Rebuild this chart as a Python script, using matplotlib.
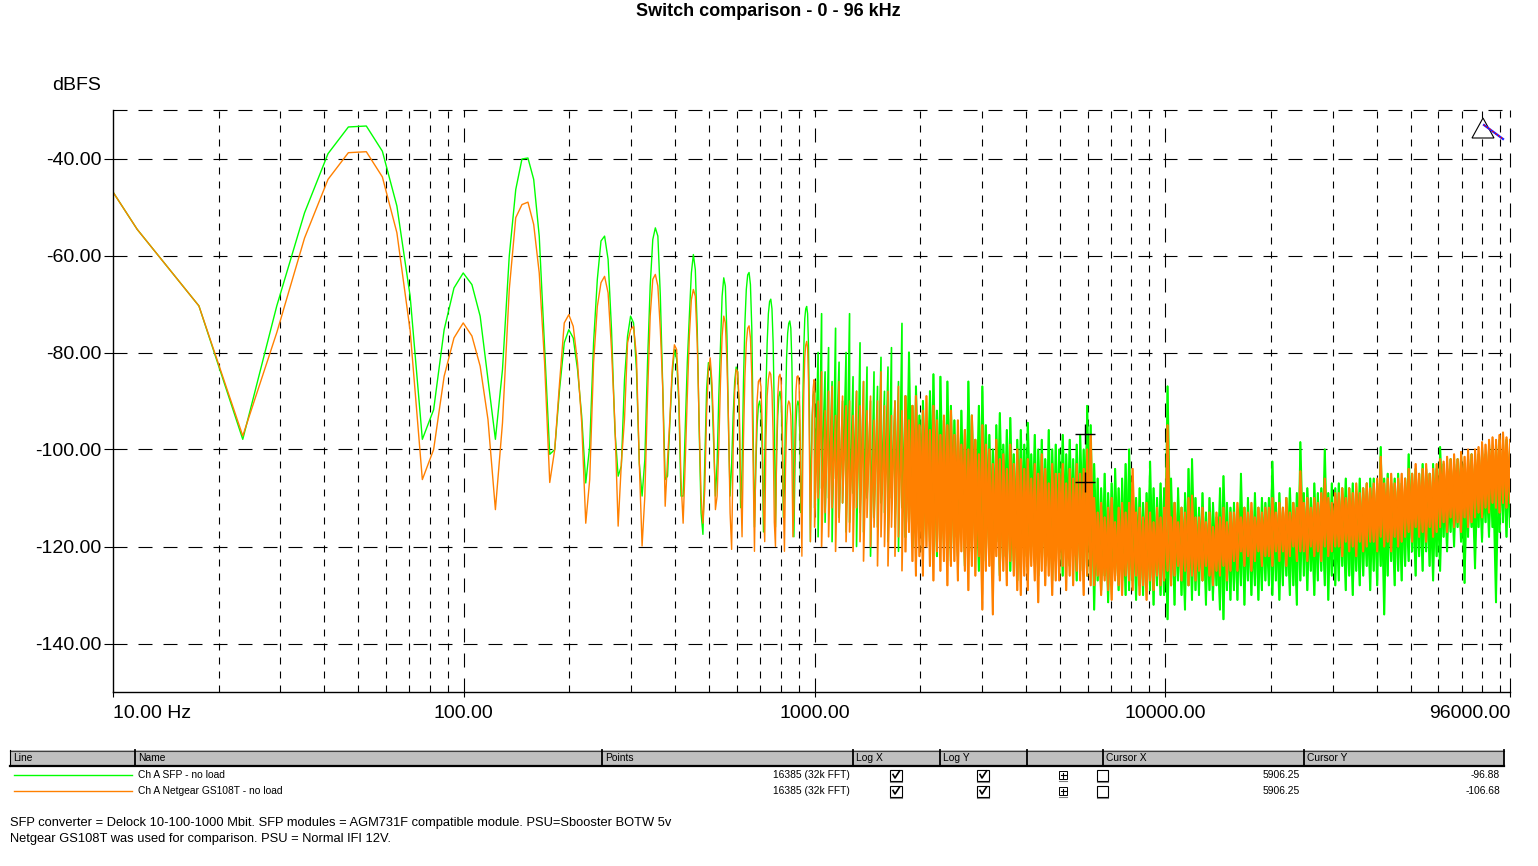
import numpy as np
import matplotlib
matplotlib.use("Agg")
import matplotlib.pyplot as plt
from matplotlib.lines import Line2D
from matplotlib.patches import Rectangle, Polygon
from matplotlib.ticker import NullLocator

plt.rcParams['lines.scale_dashes'] = False
plt.rcParams['font.family'] = ['Liberation Sans', 'DejaVu Sans']

# ---------------- data ----------------
bin_hz = 96000 / 16384          # FFT bin spacing (32k FFT, 16385 points)

# per-bin values, bins 1..170 (≈6 Hz .. 996 Hz)
sfp_bins = [
    -21.0, -54.6, -70.4, -97.9, -70.4, -51.2, -39.0, -33.5, -33.3, -38.5,
    -49.8, -68.4, -97.9, -91.8, -75.3, -66.7, -63.6, -66.0, -72.5, -85.6,
    -97.9, -83.5, -60.1, -46.4, -40.1, -39.9, -44.3, -56.0, -78.7, -101.0,
    -100.0, -87.6, -78.0, -75.3, -77.0, -83.5, -93.1, -106.9, -99.3, -78.0,
    -64.9, -57.0, -56.0, -60.8, -75.3, -95.9, -105.5, -103.4, -85.6, -76.6,
    -72.5, -73.9, -83.5, -102.8, -109.6, -102.1, -82.1, -66.3, -56.7, -54.3,
    -56.0, -68.4, -87.6, -106.2, -105.5, -94.5, -84.9, -79.4, -81.4, -90.4,
    -109.6, -109.6, -95.9, -82.1, -72.5, -63.6, -59.8, -62.9, -75.3, -95.9,
    -113.1, -117.5, -102.8, -87.6, -82.1, -82.5, -88.3, -99.3, -109.6, -102.8,
    -89.0, -78.7, -68.4, -64.6, -66.3, -76.6, -95.9, -109.6, -103.0, -93.0,
    -86, -83, -84, -92, -112, -104, -86, -74, -67, -64,
    -63.5, -66, -75, -95, -116, -104, -95, -91, -90, -92,
    -100, -117, -103, -88, -78, -72, -69.5, -69, -71, -78,
    -92, -116, -101, -93, -89, -88, -90, -98, -114, -108,
    -92, -81, -76, -74, -73.5, -75, -82, -96, -118, -104,
    -95, -91, -90, -91, -98, -113, -110, -90, -79, -73,
    -71, -70.5, -72, -79, -93, -119, -102, -93, -89, -88,
]
gs_bins = [
    -21.0, -54.6, -70.4, -97.2, -75.9, -56.4, -44.3, -38.8, -38.6, -43.8,
    -55.3, -75.5, -106.2, -100.0, -84.9, -77.0, -73.9, -76.6, -82.8, -93.8,
    -112.4, -94.5, -67.0, -52.2, -49.5, -49.0, -53.6, -63.6, -82.1, -106.8,
    -100.0, -86.2, -73.9, -72.2, -74.6, -82.1, -94.5, -115.2, -106.2, -82.1,
    -70.5, -65.6, -64.3, -67.7, -79.4, -94.5, -115.8, -102.8, -93.8, -78.0,
    -75.3, -74.6, -80.7, -102.8, -119.9, -109.6, -89.0, -72.5, -64.9, -63.9,
    -66.3, -75.3, -87.6, -111.7, -102.1, -93.8, -83.5, -78.4, -79.4, -89.0,
    -106.2, -115.2, -102.8, -89.0, -76.6, -69.1, -67.0, -68.4, -78.0, -94.5,
    -109.6, -115.2, -108.2, -92.4, -83.5, -81.1, -86.2, -95.9, -112.4, -109.6,
    -99.3, -86.2, -76.6, -72.5, -73.9, -82.1, -94.5, -113.1, -120.6, -100,
    -88, -83.5, -84, -90, -106, -118, -98, -85, -78, -75,
    -74.5, -77, -85, -103, -121, -102, -90, -86, -85.5, -87,
    -95, -112, -119, -98, -89, -85.5, -84, -84.5, -88, -97,
    -115, -120, -100, -89, -85, -84.5, -86, -94, -110, -121,
    -104, -95, -91, -90, -90.5, -93, -101, -118, -112, -96,
    -88, -85, -84.8, -86, -93, -108, -122, -101, -88, -81,
    -78.5, -77.7, -79, -86, -101, -119, -108, -94, -87.5, -85.6,
]

# dense noise region 1 kHz .. 96 kHz: upper / lower extent per log-spaced column
sfp_hi = [
    -88, -80, -72, -84, -79, -86, -75, -82, -90, -80,
    -72, -85, -88, -78, -86, -83, -90, -84, -87, -81,
    -88, -83, -79, -90, -86, -74, -89, -80, -91, -87,
    -93, -90, -95, -88, -84.5, -92, -85, -94, -86, -91,
    -94, -97, -92, -96, -86, -93, -98, -91, -87, -95,
    -97, -100, -95, -92.5, -99, -96, -93.5, -101, -98, -96,
    -99, -94.5, -101, -97, -100, -98, -102, -96, -100, -99,
    -100, -97, -101, -98, -102, -99, -97, -100, -91, -95,
    -103, -106, -108, -105, -109, -107, -104, -108, -106, -103,
    -100, -107, -110, -108, -111, -109, -102.5, -108, -110, -107,
    -108, -87, -106, -111, -108, -112, -109, -104, -102, -110,
    -112, -109, -113, -110, -111, -114, -108, -105.5, -111, -112,
    -111, -113, -105, -112, -110, -113, -109, -112, -110, -111,
    -110, -102.5, -111, -109, -112, -110, -108, -111, -109, -98.5,
    -109, -108, -110, -107, -109, -108, -100, -109, -107, -108,
    -107, -108, -106, -108, -107, -109, -106, -108, -107, -106,
    -106, -107, -99.5, -106, -105, -107, -106, -105, -107, -106,
    -101, -105, -104, -105, -103, -104, -105, -103, -104, -99.5,
    -103, -104, -102, -103, -102, -101, -103, -102, -101, -102,
    -101, -100, -101, -99, -100, -99, -98, -99, -98, -99,
]
sfp_lo = [
    -112, -118, -108, -115, -110, -119, -106, -114, -111, -117,
    -115, -109, -120, -113, -117, -110, -122, -114, -116, -111,
    -113, -119, -110, -116, -121, -112, -118, -115, -120, -114,
    -116, -121, -113, -119, -115, -122, -117, -120, -114, -123,
    -118, -122, -116, -124, -119, -121, -117, -125, -120, -123,
    -121, -124, -119, -126, -122, -120, -125, -123, -127, -121,
    -122, -125, -120, -123, -126, -121, -124, -122, -127, -123,
    -123, -126, -121, -124, -122, -127, -125, -123, -126, -124,
    -133, -127, -129, -126, -131.5, -128, -126, -129, -127, -130,
    -129, -127, -131, -128, -130, -126, -129, -132, -128, -130,
    -130, -135, -128, -132, -127, -130, -133, -128, -131, -129,
    -130, -127, -132, -129, -131, -128, -133, -135, -129, -131,
    -129, -131, -128, -132, -127, -130, -128, -131, -129, -127,
    -128, -130, -127, -131, -128, -126, -130, -128, -132, -127,
    -126, -129, -125, -130, -127, -125, -128, -131, -126, -128,
    -127, -124, -129, -126, -130, -125, -128, -126, -124, -129,
    -125, -128, -124, -134, -126, -123, -128, -125, -127, -124,
    -123, -121, -126, -122, -125, -121, -124, -127, -122, -125,
    -118, -121, -117, -120, -116, -119, -127.5, -118, -116, -124.5,
    -116, -119, -115, -118, -116, -131.5, -117, -115, -118, -116,
]
gs_hi = [
    -86, -90, -84, -92, -88, -87, -93, -86, -89, -91,
    -90, -93, -88, -91, -86, -92, -89, -94, -90, -84,
    -91, -88, -93, -90, -87, -92, -89, -94, -91, -89,
    -95, -92, -89, -96, -91, -94, -97, -93, -95, -92,
    -97, -94, -99, -96, -100, -93, -98, -101, -95, -99,
    -100, -103, -98, -102, -101, -104, -99, -103, -100, -102,
    -104, -102, -106, -103, -105, -101, -104, -107, -103, -105,
    -105, -103, -107, -104, -106, -103, -105, -104, -100, -97,
    -110, -113, -111, -114, -112, -110, -115, -112, -111, -113,
    -111, -104, -113, -112, -114, -111, -113, -115, -112, -114,
    -112, -95, -114, -111, -115, -112, -113, -110, -109.5, -114,
    -114, -112, -115, -113, -116, -113, -114, -112, -115, -113,
    -113, -111, -114, -112, -113, -111, -114, -112, -113, -112,
    -112, -110, -113, -111, -112, -110, -113, -111, -112, -104.5,
    -111, -110, -112, -110, -111, -109, -106, -110, -111, -109,
    -109, -108, -110, -108, -109, -107, -109, -108, -107, -108,
    -107, -106, -101.5, -107, -106, -105, -107, -106, -105, -106,
    -104, -105, -103, -105, -104, -103, -105, -104, -103, -102,
    -102.5, -101.5, -102, -101, -102, -100.5, -101.5, -100, -101, -100,
    -99.5, -98.5, -99, -98, -97.5, -98, -97, -96.5, -97.5, -98,
]
gs_lo = [
    -116, -110, -120, -113, -118, -112, -121, -115, -111, -119,
    -117, -121, -112, -119, -123, -114, -120, -116, -124, -118,
    -120, -124, -116, -122, -118, -125, -121, -117, -123, -126,
    -122, -126, -120, -124, -127, -121, -125, -123, -128, -124,
    -123, -127, -121, -125, -129, -124, -126, -122, -133, -125,
    -124, -134, -122, -127, -125, -128, -123, -126, -129, -130,
    -126, -129, -124, -127, -131.5, -125, -128, -126, -130, -127,
    -127, -124, -129, -126, -128, -125, -127, -130, -126, -128,
    -128, -126, -130, -127, -129, -131, -127, -128, -130, -126,
    -127, -129, -126, -130, -128, -131, -127, -129, -126, -128,
    -127, -125, -128, -126, -124, -127, -125, -128, -126, -127,
    -125, -127, -124, -126, -128, -125, -126, -124, -127, -125,
    -123, -125, -121, -124, -122, -125, -123, -121, -124, -122,
    -122, -124, -121, -123, -121, -124, -122, -120, -123, -121,
    -121, -123, -120, -122, -121, -123, -120, -122, -121, -120,
    -120, -122, -119, -121, -120, -122, -119, -121, -120, -119,
    -119, -121, -118, -120, -119, -121, -118, -120, -119, -118,
    -117, -119, -116, -118, -117, -119, -116, -118, -117, -116,
    -115, -117, -114, -116, -115, -117, -114, -116, -115, -114,
    -113, -114, -112, -113, -111, -112, -113, -111, -112, -111,
]
noise_hz = 1000.0 * (96000.0 / 1000.0) ** (np.arange(len(sfp_hi)) / (len(sfp_hi) - 1))
dense_from_hz = 1800.0   # above this the traces merge into a solid band

series_names = ["Ch A SFP - no load", "Ch A Netgear GS108T - no load"]
series_colors = ["#00ff00", "#ff8000"]
points_text = "16385 (32k FFT)"
cursor_x = 5906.25
cursor_y = [-96.88, -106.68]

y_ticks = [-40, -60, -80, -100, -120, -140]
y_ticklabels = ["-40.00", "-60.00", "-80.00", "-100.00", "-120.00", "-140.00"]
x_ticks = [10, 100, 1000, 10000, 96000]
x_ticklabels = ["10.00 Hz", "100.00", "1000.00", "10000.00", "96000.00"]
grid_y = [-30, -40, -60, -80, -100, -120, -140]
grid_major_x = [100, 1000, 10000, 96000]
grid_minor_x = [m * d for d in (10, 100, 1000, 10000) for m in range(2, 10)]

title = "Switch comparison - 0 - 96 kHz"
footer = ["SFP converter = Delock 10-100-1000 Mbit. SFP modules = AGM731F compatible module. PSU=Sbooster BOTW 5v",
          "Netgear GS108T was used for comparison. PSU = Normal IFI 12V."]
table_headers = ["Line", "Name", "Points", "Log X", "Log Y", "", "Cursor X", "Cursor Y"]


def build(bins_vals, hi, lo):
    k = np.arange(1, len(bins_vals) + 1)
    f = np.concatenate([k * bin_hz, noise_hz[:1]])
    y = np.concatenate([np.asarray(bins_vals, float), [hi[0]]])
    return f, y


def build_noise(hi, lo, back=False):
    hi = np.asarray(hi, float)
    lo = np.asarray(lo, float)
    f = noise_hz
    if back:
        m = noise_hz >= dense_from_hz
        f, hi, lo = f[m], hi[m], lo[m]
    pair = [lo, hi] if back else [hi, lo]
    return np.repeat(f, 2), np.column_stack(pair).ravel()

# ---------------- figure ----------------
W, H, DPI = 1538, 866, 100
fig = plt.figure(figsize=(W / DPI, H / DPI), dpi=DPI)
fig.patch.set_facecolor("white")
PX = 72.0 / DPI  # points per pixel

L, R, T, B = 113, 1510, 110, 692
ax = fig.add_axes([L / W, 1 - B / H, (R - L) / W, (B - T) / H])
ax.set_xscale("log")
ax.set_xlim(10, 96000)
ax.set_ylim(-150, -30)

series = [(sfp_bins, sfp_hi, sfp_lo), (gs_bins, gs_hi, gs_lo)]
for z, ((bv, hi, lo), col) in enumerate(zip(series, series_colors)):
    f, y = build(bv, hi, lo)
    ax.plot(f, y, color=col, lw=1.0, zorder=2 + z)
    f2, y2 = build_noise(hi, lo, False)
    ax.plot(f2, y2, color=col, lw=1.2, zorder=2 + z)
    f3, y3 = build_noise(hi, lo, True)
    ax.plot(f3, y3, color=col, lw=1.5, zorder=2 + z)

long_dash = (0, (14 * PX, 11 * PX))
short_dash = (0, (7 * PX, 7 * PX))
for yv in grid_y:
    ax.axhline(yv, color="black", lw=0.8, ls=long_dash, zorder=1, clip_on=False)
for xv in grid_minor_x:
    ax.axvline(xv, color="black", lw=0.8, ls=short_dash, zorder=1)
for xv in grid_major_x:
    ax.axvline(xv, color="black", lw=0.8, ls=long_dash, zorder=1, clip_on=False)

ax.plot([cursor_x, cursor_x], cursor_y, ls="none", marker="+", ms=20 * PX,
        mew=1.0, color="black", zorder=8)

for s in ("top", "right"):
    ax.spines[s].set_visible(False)
for s in ("left", "bottom"):
    ax.spines[s].set_color("black")
    ax.spines[s].set_linewidth(1.0)
    ax.spines[s].set_zorder(9)

ax.set_yticks(y_ticks)
ax.set_yticklabels(y_ticklabels)
ax.set_xticks(x_ticks)
ax.set_xticklabels(x_ticklabels)
ax.xaxis.set_minor_locator(NullLocator())
ax.yaxis.set_minor_locator(NullLocator())
ax.tick_params(axis="x", direction="out", length=5 * PX, width=0.8, labelsize=14, pad=6)
ax.tick_params(axis="y", direction="out", length=9 * PX, width=0.8, labelsize=14, pad=2)
xl = ax.get_xticklabels()
xl[0].set_horizontalalignment("left")
xl[-1].set_horizontalalignment("right")


# ---------------- figure-level decorations (pixel helpers) ----------------
def fx(x):
    return x / W


def fy(y):
    return 1 - y / H


def fline(xs, ys, **kw):
    fig.add_artist(Line2D([fx(x) for x in xs], [fy(y) for y in ys],
                          transform=fig.transFigure, **kw))


def frect(x, y, w, h, **kw):
    fig.add_artist(Rectangle((fx(x), fy(y + h)), w / W, h / H,
                             transform=fig.transFigure, **kw))


def ftext(x, y, s, **kw):
    fig.text(fx(x), fy(y), s, **kw)


fig.text(fx(768), fy(11), title, ha="center", va="center", fontsize=13, fontweight="bold")
ftext(101, 86, "dBFS", ha="right", va="center", fontsize=14)

# top-right zoom icon
fig.add_artist(Polygon([(fx(1483), fy(118)), (fx(1472), fy(138)), (fx(1494), fy(138))],
                       closed=True, facecolor="white", edgecolor="black", lw=0.8,
                       transform=fig.transFigure, zorder=10))
fline([1484, 1503], [125, 139], color="#2020ff", lw=1.6, zorder=11)
fline([1484, 1503], [125, 139], color="red", lw=1.0, ls=(0, (1.0, 1.5)), zorder=12)

tsz, fsz = 7.4, 9.3

# header bar
col_x = [10, 135, 602, 853, 940, 1027, 1103, 1304, 1504]
frect(10, 750, 1494, 16, facecolor="#c0c0c0", edgecolor="none", zorder=1)
fline([10, 1504], [750.5, 750.5], color="#404040", lw=0.8)
fline([10, 1504], [766, 766], color="black", lw=1.6)
for i, cx in enumerate(col_x):
    fline([cx, cx], [750, 766], color="black", lw=1.3 if i else 0.8)
for cx, hdr in zip(col_x[:-1], table_headers):
    ftext(cx + 3, 758, hdr, ha="left", va="center", fontsize=tsz)


def checkbox(xc, yc, checked):
    frect(xc - 5.5, yc - 5.5, 11, 11, facecolor="white", edgecolor="black", lw=0.8)
    fline([xc - 5.5, xc + 5.5], [yc + 6.5, yc + 6.5], color="#808080", lw=0.8)
    if checked:
        fline([xc - 3, xc - 1, xc + 3.5], [yc - 0.5, yc + 3, yc - 4], color="black", lw=1.2)


def plusbox(xc, yc):
    frect(xc - 4, yc - 4, 8, 8, facecolor="white", edgecolor="black", lw=0.7)
    fline([xc - 2.5, xc + 2.5], [yc, yc], color="black", lw=0.8)
    fline([xc, xc], [yc - 2.5, yc + 2.5], color="black", lw=0.8)
    fline([xc - 4, xc + 4], [yc + 6, yc + 6], color="#808080", lw=0.8)


for row, (name, col, cy) in enumerate(zip(series_names, series_colors, cursor_y)):
    yy = 775 + 16 * row
    fline([14, 132], [yy, yy], color=col, lw=1.0)
    ftext(138, yy, name, ha="left", va="center", fontsize=tsz)
    ftext(850, yy, points_text, ha="right", va="center", fontsize=tsz)
    checkbox(896, yy, True)
    checkbox(983, yy, True)
    plusbox(1063, yy)
    checkbox(1102, yy, False)
    ftext(1300, yy, f"{cursor_x:.2f}", ha="right", va="center", fontsize=tsz)
    ftext(1500, yy, f"{cy:.2f}", ha="right", va="center", fontsize=tsz)

for i, line in enumerate(footer):
    ftext(10, 823 + 16 * i, line, ha="left", va="center", fontsize=fsz)

fig.savefig("out.png", dpi=DPI, facecolor="white")
